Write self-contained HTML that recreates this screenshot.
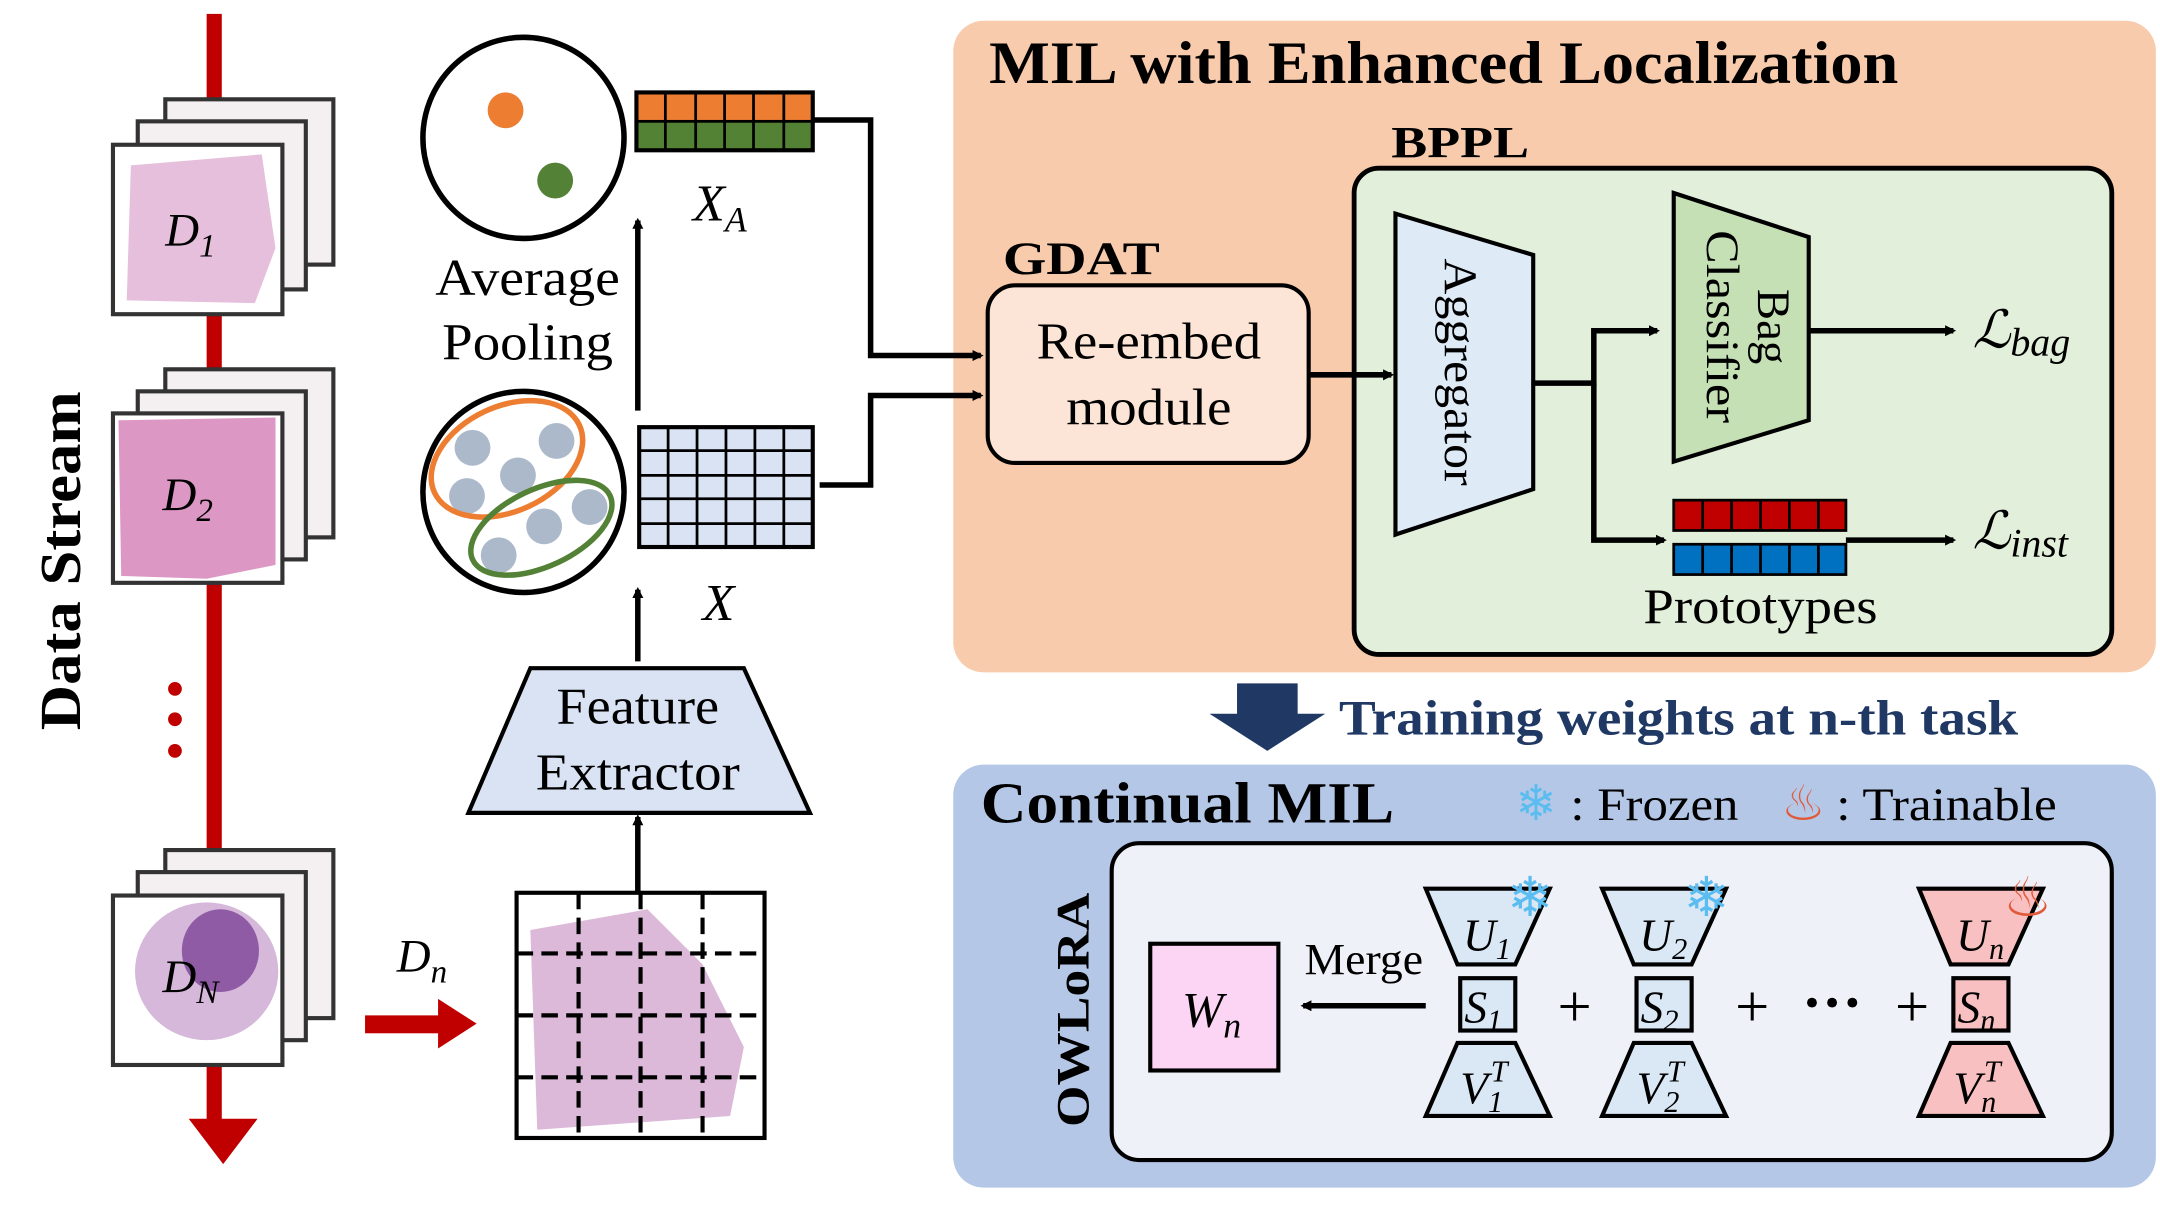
<!DOCTYPE html>
<html><head><meta charset="utf-8"><style>
html,body{margin:0;padding:0;background:#fff;width:2160px;height:1218px;overflow:hidden}
svg{display:block}
text{font-family:"Liberation Serif",serif}
</style></head><body>
<svg width="2160" height="1218" viewBox="0 0 1568 884" xmlns="http://www.w3.org/2000/svg">
<defs>
<marker id="ah" markerWidth="8" markerHeight="8" refX="6" refY="4" orient="auto" markerUnits="userSpaceOnUse" viewBox="0 0 8 8"><path d="M0,0 L8,4 L0,8 z" fill="#000"/></marker>
</defs>
<!-- data stream -->
<rect x="150" y="10" width="11" height="805" fill="#c00000"/>
<path d="M137,812 L187,812 L162,845 z" fill="#c00000"/>
<text transform="translate(58,407) rotate(-90)" text-anchor="middle" font-size="42" font-weight="bold" textLength="246" lengthAdjust="spacingAndGlyphs">Data Stream</text>
<circle cx="127" cy="500" r="5" fill="#c00000"/><circle cx="127" cy="522" r="5" fill="#c00000"/><circle cx="127" cy="545" r="5" fill="#c00000"/>
<g stroke="#333" stroke-width="3">
<rect x="120" y="72" width="122" height="120" fill="#f4f0f2"/><rect x="100" y="88" width="122" height="122" fill="#f4f0f2"/>
<rect x="82" y="105" width="123" height="123" fill="#fff"/>
<rect x="120" y="268" width="122" height="122" fill="#f4f0f2"/><rect x="100" y="284" width="122" height="122" fill="#f4f0f2"/>
<rect x="82" y="300" width="123" height="123" fill="#fff"/>
<rect x="120" y="617" width="122" height="122" fill="#f4f0f2"/><rect x="100" y="633" width="122" height="122" fill="#f4f0f2"/>
<rect x="82" y="650" width="123" height="123" fill="#fff"/>
</g>
<path d="M95,120 L190,112 L200,180 L185,220 L92,218 z" fill="#e6bfdc"/>
<path d="M86,305 L200,303 L200,410 L150,420 L88,418 z" fill="#dc97c4"/>
<ellipse cx="150" cy="705" rx="52" ry="50" fill="#d6b8da"/><ellipse cx="160" cy="690" rx="28" ry="30" fill="#8e5ba4"/>
<text x="120" y="178" font-size="34" font-style="italic">D<tspan font-size="24" dy="8">1</tspan></text>
<text x="118" y="370" font-size="34" font-style="italic">D<tspan font-size="24" dy="8">2</tspan></text>
<text x="118" y="720" font-size="34" font-style="italic">D<tspan font-size="24" dy="8">N</tspan></text>
<!-- circles -->
<circle cx="380" cy="100" r="73" fill="#fff" stroke="#000" stroke-width="4"/>
<circle cx="367" cy="80" r="13" fill="#ed7d31"/><circle cx="403" cy="131" r="13" fill="#538135"/>
<text x="383" y="214" font-size="38" text-anchor="middle" textLength="134" lengthAdjust="spacingAndGlyphs">Average</text>
<text x="383" y="261" font-size="38" text-anchor="middle" textLength="124" lengthAdjust="spacingAndGlyphs">Pooling</text>
<circle cx="380" cy="357" r="73" fill="#fff" stroke="#000" stroke-width="4"/>
<g fill="#acb9ca"><circle cx="343" cy="325" r="13"/><circle cx="404" cy="320" r="13"/><circle cx="376" cy="345" r="13"/><circle cx="339" cy="360" r="13"/><circle cx="395" cy="382" r="13"/><circle cx="428" cy="368" r="13"/><circle cx="362" cy="403" r="13"/></g>
<ellipse cx="368" cy="333" rx="58" ry="38" transform="rotate(-25 368 333)" fill="none" stroke="#ed7d31" stroke-width="4"/>
<ellipse cx="393" cy="383" rx="55" ry="28" transform="rotate(-25 393 383)" fill="none" stroke="#538135" stroke-width="4"/>
<!-- XA -->
<g stroke="#000" stroke-width="2">
<rect x="462" y="67" width="128" height="21" fill="#ed7d31"/><rect x="462" y="88" width="128" height="21" fill="#548235"/>
<path d="M483,67V109M505,67V109M526,67V109M547,67V109M569,67V109"/>
</g>
<rect x="462" y="67" width="128" height="42" fill="none" stroke="#000" stroke-width="3"/>
<text x="503" y="160" font-size="38" font-style="italic">X<tspan font-size="26" dy="8">A</tspan></text>
<!-- X grid -->
<rect x="464" y="310" width="126" height="87" fill="#dae3f3" stroke="#000" stroke-width="3"/>
<path d="M485,310V397M506,310V397M527,310V397M548,310V397M569,310V397M464,327H590M464,345H590M464,362H590M464,380H590" stroke="#000" stroke-width="2"/>
<text x="510" y="450" font-size="38" font-style="italic">X</text>
<!-- arrows up -->
<line x1="463" y1="298" x2="463" y2="160" stroke="#000" stroke-width="4" marker-end="url(#ah)"/>
<line x1="463" y1="480" x2="463" y2="428" stroke="#000" stroke-width="4" marker-end="url(#ah)"/>
<line x1="463" y1="648" x2="463" y2="593" stroke="#000" stroke-width="4" marker-end="url(#ah)"/>
<path d="M385,485 L540,485 L588,590 L340,590 z" fill="#dae3f3" stroke="#000" stroke-width="3"/>
<text x="463" y="525" font-size="38" text-anchor="middle" textLength="118" lengthAdjust="spacingAndGlyphs">Feature</text>
<text x="463" y="573" font-size="38" text-anchor="middle" textLength="148" lengthAdjust="spacingAndGlyphs">Extractor</text>
<!-- slide grid -->
<rect x="375" y="648" width="180" height="178" fill="#fff" stroke="#000" stroke-width="3"/>
<path d="M385,675 L470,660 L510,700 L540,760 L530,810 L390,820 z" fill="#dcb9d9"/>
<path d="M420,648V826M465,648V826M510,648V826M375,692H555M375,737H555M375,782H555" stroke="#000" stroke-width="3" stroke-dasharray="12,6"/>
<rect x="265" y="737" width="55" height="13" fill="#c00000"/><path d="M318,725 L346,743 L318,761 z" fill="#c00000"/>
<text x="288" y="705" font-size="34" font-style="italic">D<tspan font-size="24" dy="8">n</tspan></text>
<!-- orange panel -->
<rect x="692" y="15" width="873" height="473" rx="22" fill="#f8cbad"/>
<text x="718" y="60" font-size="44" font-weight="bold" textLength="660" lengthAdjust="spacingAndGlyphs">MIL with Enhanced Localization</text>
<text x="1010" y="114" font-size="32" font-weight="bold" textLength="100" lengthAdjust="spacingAndGlyphs">BPPL</text>
<rect x="983" y="122" width="550" height="353" rx="18" fill="#e2efda" stroke="#000" stroke-width="3.5"/>
<text x="728" y="199" font-size="34" font-weight="bold" textLength="114" lengthAdjust="spacingAndGlyphs">GDAT</text>
<rect x="717" y="207" width="233" height="129" rx="20" fill="#fce4d6" stroke="#000" stroke-width="3"/>
<text x="834" y="260" font-size="38" text-anchor="middle" textLength="163" lengthAdjust="spacingAndGlyphs">Re-embed</text>
<text x="834" y="308" font-size="38" text-anchor="middle" textLength="120" lengthAdjust="spacingAndGlyphs">module</text>
<path d="M590,87 H632 V258 H712" fill="none" stroke="#000" stroke-width="4" marker-end="url(#ah)"/>
<path d="M595,352 H632 V287 H712" fill="none" stroke="#000" stroke-width="4" marker-end="url(#ah)"/>
<line x1="950" y1="272" x2="1010" y2="272" stroke="#000" stroke-width="4" marker-end="url(#ah)"/>
<path d="M1013,155 L1113,185 L1113,355 L1013,388 z" fill="#deebf7" stroke="#000" stroke-width="3"/>
<text transform="translate(1049,270) rotate(90)" font-size="34" text-anchor="middle" textLength="165" lengthAdjust="spacingAndGlyphs">Aggregator</text>
<path d="M1113,278 H1157 V240 H1203" fill="none" stroke="#000" stroke-width="4" marker-end="url(#ah)"/>
<path d="M1157,278 V392 H1208" fill="none" stroke="#000" stroke-width="4" marker-end="url(#ah)"/>
<path d="M1215,140 L1313,172 L1313,305 L1215,335 z" fill="#c5e0b4" stroke="#000" stroke-width="3"/>
<text transform="translate(1276,237) rotate(90)" font-size="34" text-anchor="middle">Bag</text>
<text transform="translate(1239,237) rotate(90)" font-size="34" text-anchor="middle" textLength="140" lengthAdjust="spacingAndGlyphs">Classifier</text>
<line x1="1313" y1="240" x2="1418" y2="240" stroke="#000" stroke-width="4" marker-end="url(#ah)"/>
<text x="1432" y="252" font-size="38" font-style="italic">ℒ<tspan font-size="29" dy="6">bag</tspan></text>
<g stroke="#000" stroke-width="2">
<rect x="1215" y="363" width="125" height="22" fill="#c00000"/><rect x="1215" y="395" width="125" height="22" fill="#0070c0"/>
<path d="M1236,363V385M1257,363V385M1278,363V385M1299,363V385M1320,363V385M1236,395V417M1257,395V417M1278,395V417M1299,395V417M1320,395V417"/>
</g>
<line x1="1340" y1="392" x2="1418" y2="392" stroke="#000" stroke-width="4" marker-end="url(#ah)"/>
<text x="1432" y="398" font-size="38" font-style="italic">ℒ<tspan font-size="29" dy="6">inst</tspan></text>
<text x="1278" y="452" font-size="36" text-anchor="middle" textLength="170" lengthAdjust="spacingAndGlyphs">Prototypes</text>
<!-- blue arrow -->
<path d="M898,496 H942 V518 H962 L920,545 L878,518 H898 z" fill="#203864"/>
<text x="972" y="533" font-size="36" font-weight="bold" fill="#203864" textLength="493" lengthAdjust="spacingAndGlyphs">Training weights at n-th task</text>
<!-- blue panel -->
<rect x="692" y="555" width="873" height="307" rx="22" fill="#b4c7e7"/>
<text x="712" y="597" font-size="42" font-weight="bold" textLength="300" lengthAdjust="spacingAndGlyphs">Continual MIL</text>
<text x="1100" y="595" font-size="36" fill="#5bbcf0">❄</text>
<text x="1140" y="595" font-size="34" textLength="122" lengthAdjust="spacingAndGlyphs">: Frozen</text>
<text x="1293" y="595" font-size="36" fill="#e05a3a">♨</text>
<text x="1333" y="595" font-size="34" textLength="160" lengthAdjust="spacingAndGlyphs">: Trainable</text>
<rect x="807" y="612" width="726" height="230" rx="20" fill="#eef1f8" stroke="#000" stroke-width="3"/>
<text transform="translate(790,733) rotate(-90)" font-size="34" font-weight="bold" text-anchor="middle" textLength="170" lengthAdjust="spacingAndGlyphs">OWLoRA</text>
<rect x="835" y="685" width="93" height="92" fill="#fcd5f5" stroke="#000" stroke-width="3"/>
<text x="858" y="745" font-size="36" font-style="italic">W<tspan font-size="26" dy="8">n</tspan></text>
<text x="990" y="707" font-size="32" text-anchor="middle" textLength="86" lengthAdjust="spacingAndGlyphs">Merge</text>
<line x1="1035" y1="730" x2="946" y2="730" stroke="#000" stroke-width="4" marker-end="url(#ah)"/>
<g stroke="#000" stroke-width="3">
<g fill="#dae8f5">
<path d="M1035,645 H1125 L1100,700 H1058 z"/><rect x="1060" y="710" width="40" height="38"/><path d="M1058,757 H1100 L1125,810 H1035 z"/>
<path d="M1163,645 H1253 L1228,700 H1186 z"/><rect x="1188" y="710" width="40" height="38"/><path d="M1186,757 H1228 L1253,810 H1163 z"/>
</g>
<g fill="#f8c0c0">
<path d="M1393,645 H1483 L1458,700 H1416 z"/><rect x="1418" y="710" width="40" height="38"/><path d="M1416,757 H1458 L1483,810 H1393 z"/>
</g>
</g>
<g font-size="33" font-style="italic">
<text x="1062" y="690">U<tspan font-size="22" dy="6">1</tspan></text><text x="1063" y="742">S<tspan font-size="22" dy="6">1</tspan></text><text x="1060" y="801">V<tspan font-size="22" dy="6">1</tspan><tspan font-size="22" dy="-22" dx="-9">T</tspan></text>
<text x="1190" y="690">U<tspan font-size="22" dy="6">2</tspan></text><text x="1191" y="742">S<tspan font-size="22" dy="6">2</tspan></text><text x="1188" y="801">V<tspan font-size="22" dy="6">2</tspan><tspan font-size="22" dy="-22" dx="-9">T</tspan></text>
<text x="1420" y="690">U<tspan font-size="22" dy="6">n</tspan></text><text x="1421" y="742">S<tspan font-size="22" dy="6">n</tspan></text><text x="1418" y="801">V<tspan font-size="22" dy="6">n</tspan><tspan font-size="22" dy="-22" dx="-9">T</tspan></text>
</g>
<text x="1094" y="665" font-size="40" fill="#5bbcf0">❄</text>
<text x="1222" y="665" font-size="40" fill="#5bbcf0">❄</text>
<text x="1454" y="665" font-size="40" fill="#e05a3a">♨</text>
<text x="1143" y="745" font-size="44" text-anchor="middle">+</text>
<text x="1272" y="745" font-size="44" text-anchor="middle">+</text>
<text x="1330" y="742" font-size="44" font-weight="bold" text-anchor="middle">···</text>
<text x="1388" y="745" font-size="44" text-anchor="middle">+</text>
</svg>
</body></html>
